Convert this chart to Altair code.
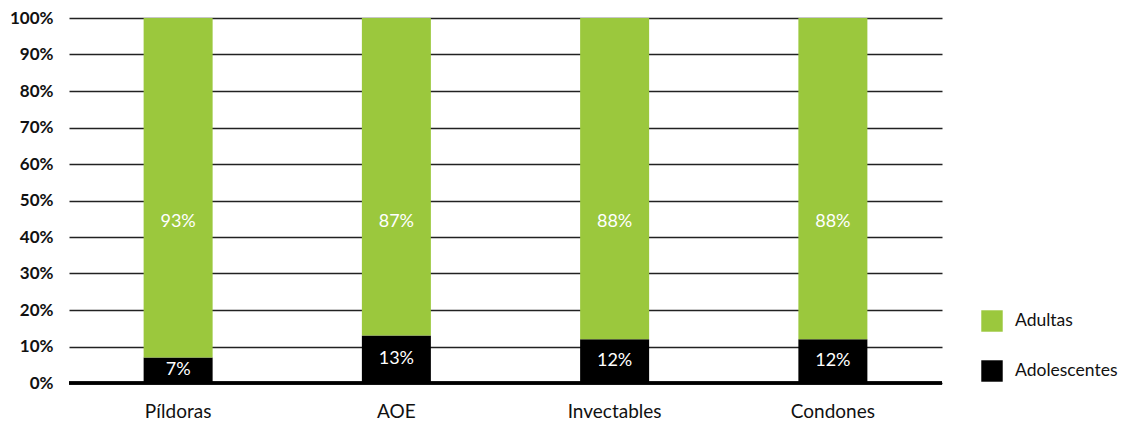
import altair as alt
import pandas as pd

categories = ["Píldoras", "AOE", "Invectables", "Condones"]
adolescentes = [7, 13, 12, 12]
adultas = [93, 87, 88, 88]
series = ["Adultas", "Adolescentes"]
colors = ["#9BC83D", "#000000"]

rows = []
for c, a, b in zip(categories, adolescentes, adultas):
    rows.append({"cat": c, "serie": "Adolescentes", "val": a, "ord": 0})
    rows.append({"cat": c, "serie": "Adultas", "val": b, "ord": 1})
df = pd.DataFrame(rows)

FONT = "Lato"

x = alt.X("cat:N", sort=categories, title=None,
          scale=alt.Scale(paddingInner=0, paddingOuter=0),
          axis=alt.Axis(labelAngle=0, ticks=False, domain=False, labelPadding=19,
                        labelFontSize=19, labelColor="#111", labelFont=FONT))

bars = alt.Chart(df).mark_bar(size=69).encode(
    x=x,
    y=alt.Y("val:Q", stack="zero", title=None,
            scale=alt.Scale(domain=[0, 100], nice=False),
            axis=alt.Axis(values=list(range(0, 101, 10)), tickCount=11,
                          labelExpr="datum.value + '%'", labelOverlap=False,
                          ticks=False, domain=False, gridColor="#222", gridWidth=1.3,
                          labelFontSize=17, labelFontWeight="bold", labelColor="#111",
                          labelPadding=16, labelFont=FONT)),
    color=alt.Color("serie:N", scale=alt.Scale(domain=series, range=colors),
                    legend=alt.Legend(title=None, orient="none", legendX=912, legendY=292,
                                      symbolType="square", symbolSize=460, symbolStrokeWidth=0,
                                      labelFontSize=17.5, labelFont=FONT, labelColor="#111",
                                      rowPadding=28, labelOffset=12, labelLimit=200)),
    order=alt.Order("ord:Q"),
)

base = alt.Chart(df).encode(x=alt.X("cat:N", sort=categories))

adol_lbl = base.transform_filter(alt.datum.serie == "Adolescentes").transform_calculate(
    pos="datum.val / 2", lbl="datum.val + '%'"
).mark_text(color="white", fontSize=18, font=FONT).encode(
    y=alt.Y("pos:Q"), text="lbl:N")

adult_lbl = base.transform_filter(alt.datum.serie == "Adultas").transform_calculate(
    lbl="datum.val + '%'"
).mark_text(color="white", fontSize=18, font=FONT).encode(
    y=alt.datum(44), text="lbl:N")

baseline = alt.Chart(df).mark_rule(color="#000", strokeWidth=2.5).encode(
    y=alt.datum(0), x=alt.value(0), x2=alt.value(873))

chart = alt.layer(bars, baseline, adol_lbl, adult_lbl).properties(
    width=873, height=365,
    autosize=alt.AutoSizeParams(type="none"),
    padding={"left": 69, "top": 18, "right": 179, "bottom": 40},
).configure_view(stroke=None)

chart.save("out.html", embed_options={"renderer": "svg", "actions": False})
